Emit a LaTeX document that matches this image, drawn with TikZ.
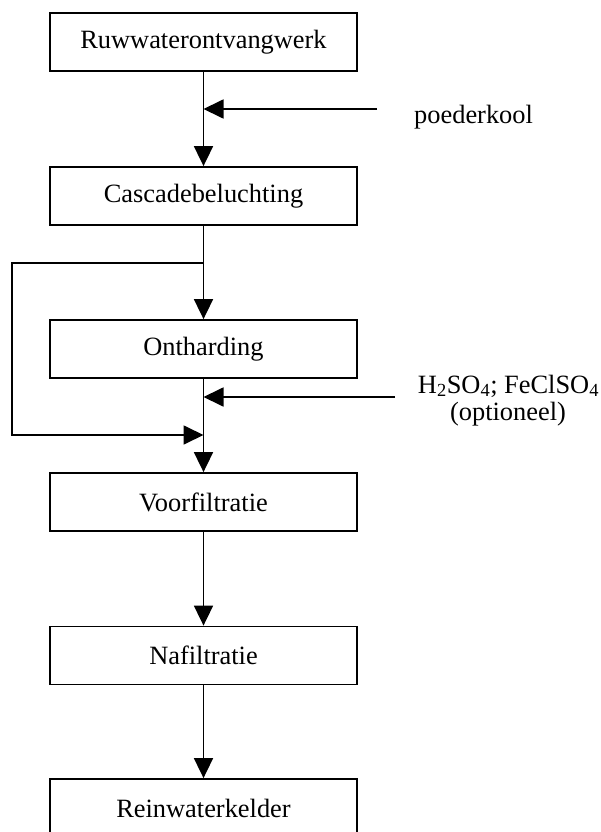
\documentclass[tikz,border=0pt]{standalone}
\usepackage{fontspec}
\setmainfont{Liberation Serif}
\usetikzlibrary{arrows.meta}
\begin{document}
\begin{tikzpicture}[x=1pt,y=-1pt,
  stepbox/.style={draw, line width=1.8pt, minimum width=307pt, minimum height=58pt, inner sep=0pt, font=\fontsize{26.4}{30}\selectfont},
  flow/.style={line width=1.8pt, -{Triangle[length=20pt,width=19pt]}},
  plain/.style={line width=1.8pt},
  lbl/.style={font=\fontsize{26.4}{30}\selectfont, inner sep=0pt}]
\useasboundingbox (0,0) rectangle (601,832);
\clip (0,0) rectangle (601,832);
\node[stepbox] (b1) at (203.5,42) {Ruwwaterontvangwerk};
\node[stepbox] (b2) at (203.5,196) {Cascadebeluchting};
\node[stepbox] (b3) at (203.5,349) {Ontharding};
\node[stepbox] (b4) at (203.5,502) {Voorfiltratie};
\node[stepbox] (b5) at (203.5,655.5) {Nafiltratie};
\node[stepbox] (b6) at (203.5,808) {Reinwaterkelder};
% main flow
\draw[flow] (b1.south) -- (b2.north);
\coordinate (pk) at (377,109);
\coordinate (pkj) at (203.5,109);
\draw[flow] (pk) -- (pkj);
\node[lbl, anchor=base west] (pkl) at (414,124) {poederkool};
% bypass loop
\coordinate (j1) at (203.5,263);
\coordinate (l1) at (12,263);
\coordinate (l2) at (12,435);
\coordinate (j2) at (203.5,435);
\draw[plain] (b2.south) -- (j1);
\draw[flow] (j1) -- (b3.north);
\draw[flow] (j1) -- (l1) -- (l2) -- (j2);
\draw[flow] (b3.south) -- (b4.north);
% dosing
\coordinate (hs) at (395,397);
\coordinate (hj) at (203.5,397);
\draw[flow] (hs) -- (hj);
\node[lbl, anchor=base] (hl1) at (508.5,393) {H\textsubscript{2}SO\textsubscript{4}; FeClSO\textsubscript{4}};
\node[lbl, anchor=base] (hl2) at (508,420) {(optioneel)};
\draw[flow] (b4.south) -- (b5.north);
\draw[flow] (b5.south) -- (b6.north);
\end{tikzpicture}
\end{document}
